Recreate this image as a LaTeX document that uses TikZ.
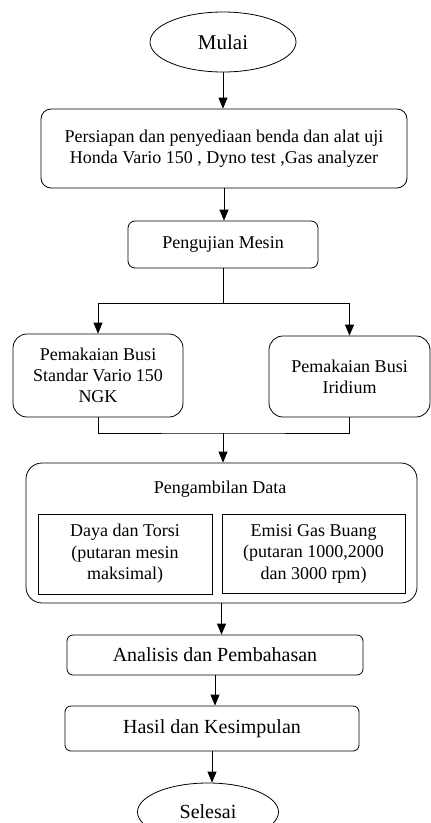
\documentclass[tikz,border=0pt]{standalone}
\usepackage{fontspec}
\setmainfont{Liberation Serif}
\usetikzlibrary{arrows.meta,shapes.geometric}

\begin{document}
\begin{tikzpicture}[x=1pt, y=-1pt, line width=0.8pt,
  txt/.style={font=\fontsize{18}{21}\selectfont, align=center},
  proc/.style={txt, draw, rounded corners=#1, inner sep=0pt},
  proc/.default=8pt,
  term/.style={draw, ellipse, inner sep=0pt, font=\fontsize{20}{24}\selectfont},
  inbox/.style={txt, draw, inner sep=0pt, font=\fontsize{18}{21.5}\selectfont},
  arr/.style={-{Triangle[length=11pt,width=9pt]}}]
  \useasboundingbox (0,0) rectangle (431,823);

  \node[term, minimum width=146pt, minimum height=60pt, font=\fontsize{21}{24}\selectfont] (mulai) at (223,42) {Mulai};
  \node[proc=10pt, minimum width=366pt, minimum height=79pt] (prep) at (224,148.5)
    {Persiapan dan penyediaan benda dan alat uji\\Honda Vario 150 , Dyno test ,Gas analyzer};
  \node[proc=7pt, minimum width=190pt, minimum height=47pt] (uji) at (223,244.5) {Pengujian Mesin};

  \coordinate (split) at (223,303);
  \node[proc=14pt, minimum width=170pt, minimum height=83pt] (ngk) at (98,375.5)
    {Pemakaian Busi\\Standar Vario 150\\NGK};
  \node[proc=14pt, minimum width=161pt, minimum height=81pt] (iri) at (349.5,376.5)
    {Pemakaian Busi\\Iridium};
  \coordinate (join) at (223,433);

  \node[draw, rounded corners=16pt, minimum width=391pt, minimum height=140pt] (data) at (221.5,533) {};
  \node[txt] (judul) at (220,489) {Pengambilan Data};
  \node[inbox, minimum width=174pt, minimum height=80pt] (daya) at (125,554)
    {Daya dan Torsi\\(putaran mesin\\maksimal)};
  \node[inbox, minimum width=183pt, minimum height=79pt] (emisi) at (313.5,553.5)
    {Emisi Gas Buang\\(putaran 1000,2000\\dan 3000 rpm)};

  \node[proc=6pt, minimum width=296pt, minimum height=40pt, font=\fontsize{20}{24}\selectfont] (ana) at (215,655)
    {Analisis dan Pembahasan};
  \node[proc=6pt, minimum width=294pt, minimum height=45pt, font=\fontsize{20}{24}\selectfont] (hasil) at (212,728.5)
    {Hasil dan Kesimpulan};
  \node[term, minimum width=141pt, minimum height=58pt] (selesai) at (208,812) {Selesai};

  \draw[arr] (mulai.south) -- (mulai.south |- prep.north);
  \draw[arr] (prep.south) -- (prep.south |- uji.north);
  \draw (uji.south) -- (split);
  \draw[arr] (split) -| (ngk.north);
  \draw[arr] (split) -| (iri.north);
  \draw (ngk.south) |- (join) -| (iri.south);
  \draw[arr] (join) -- (join |- data.north);
  \draw[arr] (data.south) -- (data.south |- ana.north);
  \draw[arr] (ana.south) -- (ana.south |- hasil.north);
  \draw[arr] (hasil.south) -- (hasil.south |- selesai.north);
\end{tikzpicture}
\end{document}
